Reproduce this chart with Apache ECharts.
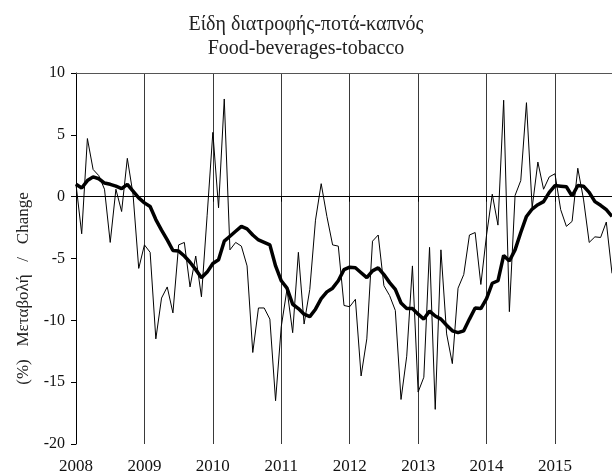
<!DOCTYPE html>
<html>
<head>
<meta charset="utf-8">
<script src="https://cdn.jsdelivr.net/npm/echarts@6/dist/echarts.min.js"></script>
<style>
  html, body { margin: 0; padding: 0; background: #fff; }
  #chart { width: 612px; height: 475px; }
</style>
</head>
<body>
<div id="chart"></div>
<script>
// monthly values, Jan 2008 .. Nov 2015
const monthly = [
  1.0, -3.0, 4.7, 2.2, 1.7, 0.6, -3.7, 0.6, -1.2, 3.1, 0.2, -5.8,
  -3.9, -4.5, -11.5, -8.2, -7.3, -9.4, -3.9, -3.7, -7.3, -4.8, -8.1, -1.5,
  5.2, -0.9, 7.9, -4.3, -3.7, -4.0, -5.6, -12.6, -9.0, -9.0, -9.9, -16.5,
  -10.5, -7.5, -11.0, -4.5, -10.3, -7.5, -1.9, 1.05, -1.6, -3.9, -4.0, -8.8,
  -8.9, -8.3, -14.5, -11.5, -3.6, -3.1, -7.2, -8.0, -9.2, -16.4, -12.9, -5.6,
  -15.8, -14.6, -4.1, -17.2, -4.3, -11.1, -13.5, -7.4, -6.3, -3.1, -2.9, -7.1,
  -3.1, 0.2, -2.3, 7.8, -9.3, 0.1, 1.3, 7.6, -0.9, 2.8, 0.6, 1.6,
  1.85, -1.05, -2.4, -2.0, 2.3, -0.2, -3.7, -3.25, -3.3, -2.05, -6.2
];

// 12-month moving average
const movingAvg = [
  1.0, 0.7, 1.3, 1.6, 1.45, 1.1, 1.0, 0.85, 0.65, 1.0, 0.45, -0.1,
  -0.5, -0.8, -1.85, -2.7, -3.5, -4.35, -4.4, -4.8, -5.3, -5.9, -6.55, -6.1,
  -5.4, -5.1, -3.6, -3.2, -2.8, -2.4, -2.6, -3.1, -3.5, -3.7, -3.9, -5.6,
  -6.8, -7.4, -8.7, -9.05, -9.5, -9.7, -9.1, -8.25, -7.7, -7.4, -6.8, -5.9,
  -5.7, -5.75, -6.15, -6.55, -6.0, -5.75, -6.3, -6.95, -7.5, -8.6, -9.05, -9.05,
  -9.5, -9.9, -9.25, -9.65, -9.9, -10.4, -10.85, -11.0, -10.85, -9.9, -9.0, -9.05,
  -8.25, -7.0, -6.8, -4.75, -5.2, -4.3, -2.9, -1.6, -1.0, -0.65, -0.4, 0.35,
  0.9, 0.85, 0.8, 0.05, 0.9, 0.85, 0.35, -0.4, -0.7, -1.05, -1.6
];

const yTicks = [-20, -15, -10, -5, 0, 5, 10];

const months = [];
for (let i = 0; i < monthly.length; i++) {
  const y = 2008 + Math.floor(i / 12);
  const m = (i % 12) + 1;
  months.push(y + '-' + (m < 10 ? '0' + m : m));
}

const font = '"Liberation Serif", "DejaVu Serif", serif';
const chart = echarts.init(document.getElementById('chart'));

const option = {
  animation: false,
  title: {
    text: 'Είδη διατροφής-ποτά-καπνός\nFood-beverages-tobacco',
    left: 'center',
    top: 8,
    textStyle: {
      fontFamily: font,
      fontWeight: 'normal',
      fontSize: 20,
      lineHeight: 24,
      color: '#222'
    }
  },
  grid: { left: 76, right: 0, top: 73, bottom: 30 },
  xAxis: [{
    type: 'category',
    data: months,
    boundaryGap: false,
    axisLine: { lineStyle: { color: '#000', width: 1 } },
    axisTick: { interval: 11, length: 5, lineStyle: { color: '#000' } },
    axisLabel: {
      interval: 11,
      formatter: v => v.slice(0, 4),
      fontFamily: font,
      fontSize: 17,
      color: '#111',
      margin: 14
    },
    splitLine: { show: true, interval: 11, lineStyle: { color: '#3a3a3a', width: 1 } }
  }, {
    type: 'category',
    data: months,
    position: 'top',
    boundaryGap: false,
    axisLine: { lineStyle: { color: '#555', width: 1 } },
    axisTick: { show: false },
    axisLabel: { show: false }
  }],
  yAxis: {
    type: 'value',
    min: yTicks[0],
    max: yTicks[yTicks.length - 1],
    interval: 5,
    name: '(%)   Μεταβολή   /   Change',
    nameLocation: 'middle',
    nameGap: 44,
    nameTextStyle: {
      fontFamily: font,
      fontSize: 17,
      color: '#222',
      padding: [0, 60, 0, 0]
    },
    axisLine: { show: true, lineStyle: { color: '#000', width: 1 } },
    axisTick: { show: true, length: 5, lineStyle: { color: '#000' } },
    axisLabel: { fontFamily: font, fontSize: 16, color: '#111', margin: 11 },
    splitLine: {
      show: true,
      lineStyle: {
        color: ['transparent', 'transparent', 'transparent', 'transparent', '#555', 'transparent', 'transparent'],
        width: 1
      }
    }
  },
  series: [{
    name: 'monthly',
    type: 'line',
    data: monthly,
    symbol: 'none',
    lineStyle: { color: '#000', width: 1 }
  }, {
    name: 'average',
    type: 'line',
    data: movingAvg,
    symbol: 'none',
    lineStyle: { color: '#000', width: 3.5 }
  }]
};

chart.setOption(option);
</script>
</body>
</html>
